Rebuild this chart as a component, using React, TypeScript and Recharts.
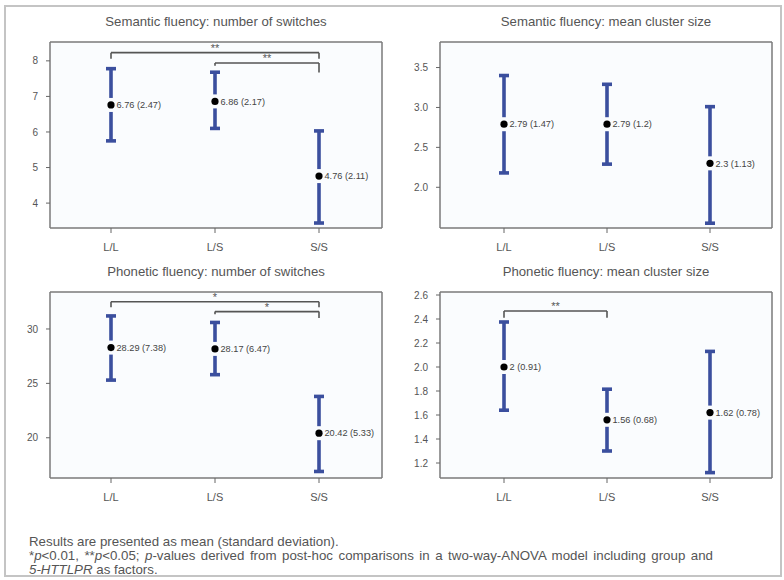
import React from 'react';
import {
  ComposedChart,
  Scatter,
  ErrorBar,
  XAxis,
  YAxis,
  CartesianGrid,
  ReferenceLine,
  LabelList,
} from 'recharts';

const GROUPS = ['L/L', 'L/S', 'S/S'];

// Semantic fluency: number of switches
const SEM_SWITCH_MEAN = [6.76, 6.86, 4.76];
const SEM_SWITCH_SD = [2.47, 2.17, 2.11];
const SEM_SWITCH_LOW = [5.75, 6.1, 3.44];
const SEM_SWITCH_HIGH = [7.78, 7.68, 6.03];

// Semantic fluency: mean cluster size
const SEM_CLUSTER_MEAN = [2.79, 2.79, 2.3];
const SEM_CLUSTER_SD = [1.47, 1.2, 1.13];
const SEM_CLUSTER_LOW = [2.18, 2.29, 1.55];
const SEM_CLUSTER_HIGH = [3.4, 3.29, 3.01];

// Phonetic fluency: number of switches
const PHO_SWITCH_MEAN = [28.29, 28.17, 20.42];
const PHO_SWITCH_SD = [7.38, 6.47, 5.33];
const PHO_SWITCH_LOW = [25.3, 25.8, 16.9];
const PHO_SWITCH_HIGH = [31.2, 30.6, 23.8];

// Phonetic fluency: mean cluster size
const PHO_CLUSTER_MEAN = [2, 1.56, 1.62];
const PHO_CLUSTER_SD = [0.91, 0.68, 0.78];
const PHO_CLUSTER_LOW = [1.64, 1.3, 1.12];
const PHO_CLUSTER_HIGH = [2.375, 1.815, 2.13];

// significance brackets (level and the two drop ends, in axis units)
type Bracket = { from: string; to: string; y: number; yl: number; yr: number; mark: string };

const SEM_SWITCH_BRACKETS: Bracket[] = [
  { from: 'L/L', to: 'S/S', y: 8.23, yl: 8.06, yr: 8.06, mark: '**' },
  { from: 'L/S', to: 'S/S', y: 7.94, yl: 7.86, yr: 7.67, mark: '**' },
];
const PHO_SWITCH_BRACKETS: Bracket[] = [
  { from: 'L/L', to: 'S/S', y: 32.5, yl: 32.0, yr: 32.0, mark: '*' },
  { from: 'L/S', to: 'S/S', y: 31.6, yl: 31.35, yr: 31.0, mark: '*' },
];
const PHO_CLUSTER_BRACKETS: Bracket[] = [
  { from: 'L/L', to: 'L/S', y: 2.467, yl: 2.41, yr: 2.41, mark: '**' },
];

const FONT = '"Liberation Sans", Arial, sans-serif';
const BAR_BLUE = '#3b4f9e';
const GREY = '#666';

const build = (mean: number[], sd: number[], low: number[], high: number[]) =>
  GROUPS.map((g, i) => ({
    group: g,
    mean: mean[i],
    err: [+(mean[i] - low[i]).toFixed(3), +(high[i] - mean[i]).toFixed(3)],
    label: `${mean[i]} (${sd[i]})`,
  }));

const Dot = (props: any) => {
  const { cx, cy } = props;
  if (cx == null || cy == null) return null;
  return (
    <g>
      <rect x={cx - 3} y={cy - 7} width={6} height={14} fill="#fafcfe" />
      <circle cx={cx} cy={cy} r={3.6} fill="#000" />
    </g>
  );
};

const pointLabel = (p: any) => {
  const x = (p.x || 0) + (p.width || 0) + 1;
  const y = (p.y || 0) + (p.height || 0) / 2;
  return (
    <text x={x} y={y} dy="0.35em" fontSize={9.2} fontFamily={FONT} fill="#444">
      {p.value}
    </text>
  );
};

const starLabel = (mark: string) => (p: any) => {
  const vb = p.viewBox || {};
  return (
    <text
      x={(vb.x || 0) + (vb.width || 0) / 2}
      y={(vb.y || 0) - 1}
      textAnchor="middle"
      fontSize={11}
      fontFamily={FONT}
      fill="#555"
    >
      {mark}
    </text>
  );
};

// grid lines only at the plot edges give the box around each panel
const frameRows = ({ offset }: any) => [offset.top, offset.top + offset.height];
const frameCols = ({ offset }: any) => [offset.left, offset.left + offset.width];

type PanelProps = {
  title: string;
  left: number;
  top: number;
  plotLeft: number;
  pad: { left: number; right: number };
  data: any[];
  domain: [number, number];
  ticks: number[];
  fmt: (v: number) => string;
  brackets?: Bracket[];
};

const Panel: React.FC<PanelProps> = ({ title, left, top, plotLeft, pad, data, domain, ticks, fmt, brackets = [] }) => {
  const W = 392;
  const H = 262;
  const yAxisW = 36;
  return (
    <div style={{ position: 'absolute', left, top, width: W, height: H }}>
      <div
        style={{
          position: 'absolute',
          left: plotLeft - 20,
          width: 372,
          top: 14,
          textAlign: 'center',
          fontFamily: FONT,
          fontSize: 13.2,
          color: '#555',
        }}
      >
        {title}
      </div>
      <ComposedChart
        width={W}
        height={H}
        data={data}
        margin={{ top: 42, right: W - plotLeft - 332, left: plotLeft - yAxisW, bottom: 4 }}
      >
        <CartesianGrid
          fill="#fafcfe"
          stroke="#7a7a7a"
          strokeWidth={1.5}
          horizontalCoordinatesGenerator={frameRows}
          verticalCoordinatesGenerator={frameCols}
        />
        <XAxis
          dataKey="group"
          type="category"
          padding={pad}
          axisLine={false}
          tickLine={{ stroke: GREY }}
          tickSize={5}
          tickMargin={10}
          height={30}
          tick={{ fill: '#555', fontSize: 11, fontFamily: FONT }}
        />
        <YAxis
          type="number"
          domain={domain}
          allowDataOverflow
          ticks={ticks}
          tickFormatter={fmt}
          axisLine={false}
          tickLine={{ stroke: GREY }}
          tickSize={4}
          tickMargin={8}
          width={yAxisW}
          tick={{ fill: '#555', fontSize: 10, fontFamily: FONT }}
        />
        {brackets.map((b, i) => (
          <ReferenceLine
            key={`h${i}`}
            segment={[{ x: b.from, y: b.y }, { x: b.to, y: b.y }]}
            stroke="#555"
            strokeWidth={1.6}
            label={starLabel(b.mark)}
          />
        ))}
        {brackets.map((b, i) => (
          <ReferenceLine key={`l${i}`} segment={[{ x: b.from, y: b.y }, { x: b.from, y: b.yl }]} stroke="#555" strokeWidth={1.6} />
        ))}
        {brackets.map((b, i) => (
          <ReferenceLine key={`r${i}`} segment={[{ x: b.to, y: b.y }, { x: b.to, y: b.yr }]} stroke="#555" strokeWidth={1.6} />
        ))}
        <Scatter dataKey="mean" shape={<Dot />} isAnimationActive={false}>
          <ErrorBar dataKey="err" direction="y" width={5} strokeWidth={3.6} stroke={BAR_BLUE} isAnimationActive={false} />
          <LabelList dataKey="label" content={pointLabel} />
        </Scatter>
      </ComposedChart>
    </div>
  );
};

const f0 = (v: number) => String(v);
const f1 = (v: number) => v.toFixed(1);

export default function App() {
  return (
    <div style={{ position: 'absolute', left: 0, top: 0, width: 784, height: 580, background: '#fff', overflow: 'hidden' }}>
      <div
        style={{
          position: 'absolute',
          left: 4,
          top: 5,
          width: 774,
          height: 568,
          border: '2px solid #c4c4c4',
        }}
      />
      <Panel
        title="Semantic fluency: number of switches"
        left={0}
        top={0}
        plotLeft={50}
        pad={{ left: 61, right: 63 }}
        data={build(SEM_SWITCH_MEAN, SEM_SWITCH_SD, SEM_SWITCH_LOW, SEM_SWITCH_HIGH)}
        domain={[3.3, 8.53]}
        ticks={[4, 5, 6, 7, 8]}
        fmt={f0}
        brackets={SEM_SWITCH_BRACKETS}
      />
      <Panel
        title="Semantic fluency: mean cluster size"
        left={392}
        top={0}
        plotLeft={48}
        pad={{ left: 64, right: 62 }}
        data={build(SEM_CLUSTER_MEAN, SEM_CLUSTER_SD, SEM_CLUSTER_LOW, SEM_CLUSTER_HIGH)}
        domain={[1.49, 3.82]}
        ticks={[2.0, 2.5, 3.0, 3.5]}
        fmt={f1}
      />
      <Panel
        title="Phonetic fluency: number of switches"
        left={0}
        top={250}
        plotLeft={50}
        pad={{ left: 61, right: 63 }}
        data={build(PHO_SWITCH_MEAN, PHO_SWITCH_SD, PHO_SWITCH_LOW, PHO_SWITCH_HIGH)}
        domain={[16.3, 33.4]}
        ticks={[20, 25, 30]}
        fmt={f0}
        brackets={PHO_SWITCH_BRACKETS}
      />
      <Panel
        title="Phonetic fluency: mean cluster size"
        left={392}
        top={250}
        plotLeft={48}
        pad={{ left: 64, right: 62 }}
        data={build(PHO_CLUSTER_MEAN, PHO_CLUSTER_SD, PHO_CLUSTER_LOW, PHO_CLUSTER_HIGH)}
        domain={[1.075, 2.625]}
        ticks={[1.2, 1.4, 1.6, 1.8, 2.0, 2.2, 2.4, 2.6]}
        fmt={f1}
        brackets={PHO_CLUSTER_BRACKETS}
      />
      <div
        style={{
          position: 'absolute',
          left: 29,
          top: 535,
          width: 700,
          fontFamily: FONT,
          fontSize: 13.3,
          lineHeight: '14px',
          color: '#555',
        }}
      >
        <div>Results are presented as mean (standard deviation).</div>
        <div style={{ whiteSpace: 'nowrap', wordSpacing: '1.8px' }}>
          *<i>p</i>&lt;0.01, **<i>p</i>&lt;0.05; <i>p</i>-values derived from post-hoc comparisons in a two-way-ANOVA model
          including group and
        </div>
        <div>
          <i>5-HTTLPR</i> as factors.
        </div>
      </div>
    </div>
  );
}
